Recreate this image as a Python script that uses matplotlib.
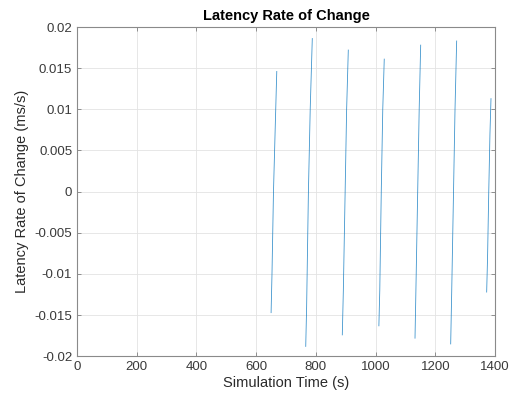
import matplotlib
matplotlib.use("Agg")
import matplotlib.pyplot as plt
import numpy as np

plt.rcParams['font.family'] = ['Liberation Sans', 'DejaVu Sans']

# latency rate of change, one burst per rerouting event (time s, rate ms/s)
burst_times = [
    [650, 653, 658, 664, 669],
    [766, 769, 775, 781, 788],
    [888.5, 892, 898, 903, 908.6],
    [1011, 1014, 1019, 1024, 1029],
    [1132, 1135, 1141, 1146, 1151],
    [1251.5, 1255, 1261, 1266, 1271.5],
    [1372, 1375, 1379, 1383, 1386.5],
]
burst_rates = [
    [-0.0147, -0.0100, 0.0000, 0.0080, 0.0146],
    [-0.0188, -0.0140, 0.0000, 0.0100, 0.0186],
    [-0.0174, -0.0120, 0.0000, 0.0100, 0.0172],
    [-0.0163, -0.0120, 0.0000, 0.0100, 0.0161],
    [-0.0178, -0.0120, 0.0000, 0.0100, 0.0178],
    [-0.0185, -0.0120, 0.0000, 0.0100, 0.0183],
    [-0.0122, -0.0080, 0.0000, 0.0070, 0.0113],
]
x_ticks = [0, 200, 400, 600, 800, 1000, 1200, 1400]
y_ticks = [-0.02, -0.015, -0.01, -0.005, 0, 0.005, 0.01, 0.015, 0.02]
y_labels = ['-0.02', '-0.015', '-0.01', '-0.005', '0', '0.005', '0.01', '0.015', '0.02']

fig = plt.figure(figsize=(5.19, 3.96), dpi=100)
ax = fig.add_axes([0.1484, 0.1003, 0.8054, 0.8315])

# gaps between bursts are NaN, so join everything into one line
t_all, r_all = [], []
for t, r in zip(burst_times, burst_rates):
    t_all += t + [np.nan]
    r_all += r + [np.nan]
ax.plot(t_all, r_all, color='#0072BD', linewidth=0.6, alpha=0.75)

ax.set_xlim(0, 1400)
ax.set_ylim(-0.02, 0.02)
ax.set_xticks(x_ticks)
ax.set_yticks(y_ticks)
ax.set_yticklabels(y_labels)

ax.grid(True, color='#e3e3e3', linewidth=0.6)
ax.set_axisbelow(True)
ax.tick_params(direction='in', length=3, width=0.6, colors='#7f7f7f',
               labelsize=9.5, top=True, right=True, labelcolor='#3a3a3a')
for s in ax.spines.values():
    s.set_color('#8a8a8a')
    s.set_linewidth(0.8)

ax.set_xlabel('Simulation Time (s)', fontsize=10.5, color='#2a2a2a', labelpad=2)
ax.set_ylabel('Latency Rate of Change (ms/s)', fontsize=10.5, color='#2a2a2a', labelpad=4)
ax.set_title('Latency Rate of Change', fontsize=10.5, fontweight='bold', color='#000000', pad=5)

fig.savefig('out.png', dpi=100)
